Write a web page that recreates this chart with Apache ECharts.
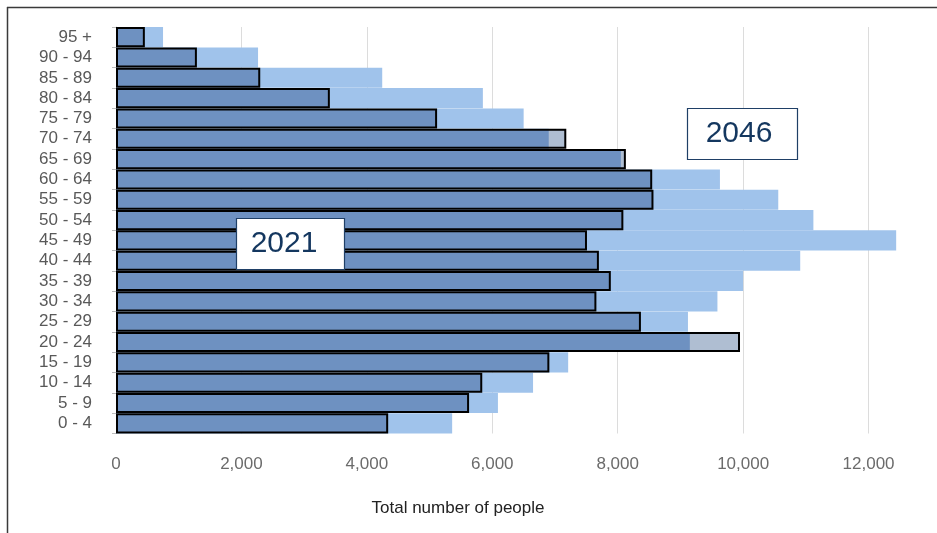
<!DOCTYPE html>
<html>
<head>
<meta charset="utf-8">
<style>
  html, body { margin: 0; padding: 0; background: #fff; }
  #chart { width: 937px; height: 533px; }
</style>
<script src="https://cdn.jsdelivr.net/npm/echarts@6/dist/echarts.min.js"></script>
</head>
<body>
<div id="chart"></div>
<script>
// age groups, bottom to top
var ageGroups = ["0 - 4", "5 - 9", "10 - 14", "15 - 19", "20 - 24", "25 - 29", "30 - 34", "35 - 39",
  "40 - 44", "45 - 49", "50 - 54", "55 - 59", "60 - 64", "65 - 69", "70 - 74", "75 - 79",
  "80 - 84", "85 - 89", "90 - 94", "95 +"];
var pop2021 = [4340, 5630, 5840, 6910, 9950, 8370, 7660, 7890, 7700, 7510,
  8090, 8570, 8550, 8130, 7180, 5120, 3410, 2300, 1290, 460];
var pop2046 = [5360, 6090, 6650, 7210, 9150, 9120, 9590, 10000, 10910, 12440,
  11120, 10560, 9630, 8050, 6900, 6500, 5850, 4245, 2265, 750];
var xTicks = [0, 2000, 4000, 6000, 8000, 10000, 12000, 14000];

var myChart = echarts.init(document.getElementById("chart"));
var option = {
  animation: false,
  grid: { left: 116, width: 878, top: 27, bottom: 99.5, outerBoundsMode: "none", containLabel: false },
  xAxis: {
    type: "value",
    min: xTicks[0],
    max: xTicks[xTicks.length - 1],
    interval: 2000,
    axisLine: { show: false },
    axisTick: { show: false },
    splitLine: { show: true, lineStyle: { color: "#dcdcdc", width: 1 } },
    axisLabel: {
      color: "#6b6b6b",
      fontSize: 17,
      fontFamily: "Liberation Sans Narrow, Liberation Sans, sans-serif",
      margin: 22,
      formatter: function (v) { return v.toLocaleString("en-US"); }
    }
  },
  yAxis: {
    type: "category",
    data: ageGroups,
    axisLine: { show: true, lineStyle: { color: "#d0d0d0" } },
    axisTick: { show: true, length: 4, interval: 0, lineStyle: { color: "#bdbdbd" } },
    axisLabel: {
      interval: 0,
      color: "#595959",
      fontSize: 17,
      fontFamily: "Liberation Sans Narrow, Liberation Sans, sans-serif",
      margin: 24
    }
  },
  series: [
    {
      name: "2046",
      type: "bar",
      data: pop2046,
      barCategoryGap: "1%",
      barGap: "-100%",
      itemStyle: { color: "#a0c3eb" }
    },
    {
      name: "2021",
      type: "bar",
      data: pop2021,
      barCategoryGap: "1%",
      barGap: "-100%",
      blendMode: "multiply",
      itemStyle: { color: "#afbed2", borderColor: "#000", borderWidth: 2 }
    }
  ],
  graphic: [
    { type: "line", shape: { x1: 7, y1: 7.5, x2: 937, y2: 7.5 }, style: { stroke: "#3a3a3a", lineWidth: 1.5 } },
    { type: "line", shape: { x1: 7.5, y1: 7, x2: 7.5, y2: 533 }, style: { stroke: "#3a3a3a", lineWidth: 1.5 } },
    { type: "rect", shape: { x: 236.5, y: 218.5, width: 108, height: 51 }, style: { fill: "#fff", stroke: "#1f3f66", lineWidth: 1.2 }, z: 100 },
    { type: "text", x: 284, y: 244, style: { text: "2021", fill: "#14375f", font: "30px Liberation Sans, sans-serif", align: "center", verticalAlign: "middle" }, z: 101 },
    { type: "rect", shape: { x: 687.5, y: 108.5, width: 110, height: 51 }, style: { fill: "#fff", stroke: "#1f3f66", lineWidth: 1.2 }, z: 100 },
    { type: "text", x: 739, y: 134, style: { text: "2046", fill: "#14375f", font: "30px Liberation Sans, sans-serif", align: "center", verticalAlign: "middle" }, z: 101 },
    { type: "text", x: 458, y: 508, style: { text: "Total number of people", fill: "#222", font: "17px Liberation Sans Narrow, Liberation Sans, sans-serif", align: "center", verticalAlign: "middle" }, z: 101 }
  ]
};
myChart.setOption(option);
</script>
</body>
</html>
